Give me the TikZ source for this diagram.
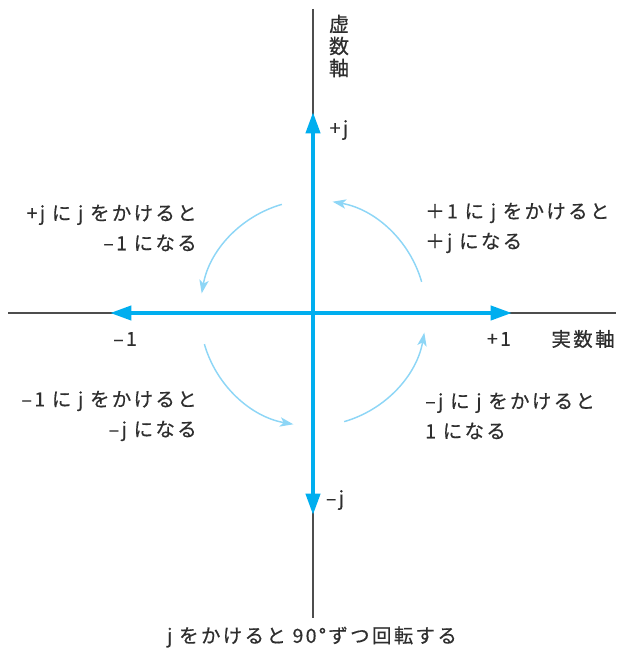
\documentclass[tikz,border=0pt]{standalone}
\usepackage{fontspec}
\setmainfont{Noto Sans CJK JP}[LetterSpace=12,FakeBold=0.5]
\usetikzlibrary{arrows.meta,calc}
\definecolor{axisblue}{HTML}{00AEEF}
\definecolor{arcblue}{HTML}{8ED6F6}
\definecolor{axisgray}{HTML}{4D4D4D}
\definecolor{txt}{HTML}{2E2E2E}
\begin{document}
\begin{tikzpicture}[x=0.75pt,y=0.75pt,
  thinaxis/.style={draw=axisgray,line width=0.9pt},
  bluearrow/.style={draw=axisblue,line width=3pt,-{Triangle[length=16pt,width=10.5pt]}},
  rotarc/.style={draw=arcblue,line width=1.1pt,-{Stealth[length=10pt,width=7pt,inset=2.5pt]}},
  lbl/.style={text=txt,font=\fontsize{14.6}{22.5}\selectfont,inner sep=0pt},
]
\useasboundingbox (0,0) rectangle (619,-652);
\coordinate (O) at (313,-313);
\coordinate (xl) at (8,-313);
\coordinate (xr) at (616,-313);
\coordinate (yt) at (313,-9);
\coordinate (yb) at (313,-618);
\coordinate (pj) at (313,-112);
\coordinate (mj) at (313,-515);
\coordinate (m1) at (110,-313);
\coordinate (p1) at (512,-313);
% thin axes
\draw[thinaxis] (xl) -- (xr);
\draw[thinaxis] (yt) -- (yb);
% blue arrows
\draw[bluearrow] (O) -- (pj);
\draw[bluearrow] (O) -- (mj);
\draw[bluearrow] (O) -- (m1);
\draw[bluearrow] (O) -- (p1);
% rotation arcs
\foreach \a in {0,90,180,270}{
  \draw[rotarc] ($(O)+(\a+16:113)$) arc[start angle=\a+16,end angle=\a+80,radius=113];
}
% axis labels
\node[lbl,align=center,font=\fontsize{15}{16.5}\selectfont] (ylab) at (339,-46) {虚\\数\\軸};
\node[lbl] (xlab) at (583,-339) {実数軸};
\node[lbl] (lpj) at (339,-130) {+j};
\node[lbl] (lmj) at (335,-500) {–j};
\node[lbl] (lm1) at (125,-339) {–1};
\node[lbl] (lp1) at (499,-339) {+1};
% quadrant texts
\node[lbl,anchor=east,align=right] (tl) at (197,-228) {+j に j をかけると\\–1 になる};
\node[lbl,anchor=west,align=left] (tr) at (425,-228) {＋1 に j をかけると\\＋j になる};
\node[lbl,anchor=east,align=right] (bl) at (197,-416) {–1 に j をかけると\\–j になる};
\node[lbl,anchor=west,align=left] (br) at (425,-416) {–j に j をかけると\\1 になる};
% caption
\node[lbl] (cap) at (312,-637) {j をかけると 90°ずつ回転する};
\end{tikzpicture}
\end{document}
